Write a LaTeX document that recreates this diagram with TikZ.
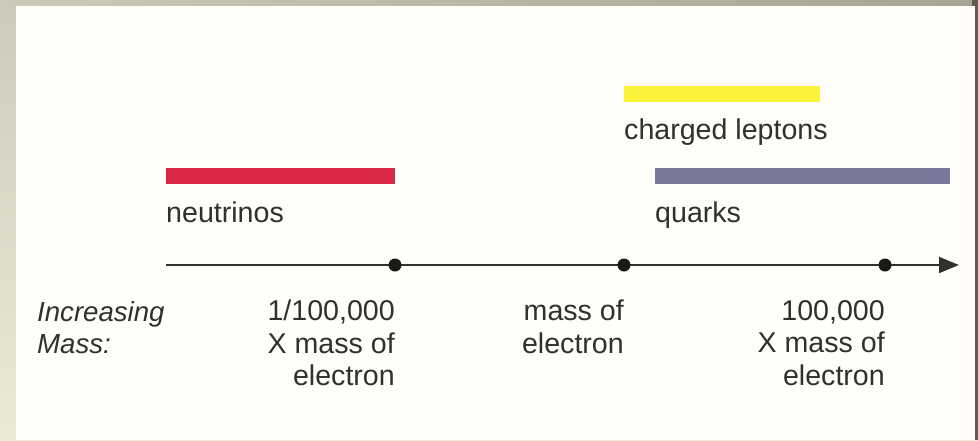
\documentclass[tikz,border=0pt]{standalone}
\usepackage{fontspec}
\setmainfont{Liberation Sans}
\usetikzlibrary{arrows.meta}

\definecolor{pagebg}{RGB}{255,254,248}
\definecolor{frameA}{RGB}{205,202,186}
\definecolor{frameB}{RGB}{236,234,214}
\definecolor{frameC}{RGB}{168,164,148}
\definecolor{frameedge}{RGB}{95,92,84}
\definecolor{neutrinored}{RGB}{218,40,70}
\definecolor{leptonyellow}{RGB}{252,242,58}
\definecolor{quarkblue}{RGB}{119,120,156}
\definecolor{ink}{RGB}{48,48,48}

\tikzset{
  bar/.style={draw=none, inner sep=0pt, anchor=north west, minimum height=16pt},
  label/.style={text=ink, inner sep=0pt, font=\fontsize{28.6}{32.5}\selectfont},
  tick/.style={circle, fill=black!90, inner sep=0pt, minimum size=13pt},
  axis/.style={line width=1.8pt, draw=ink, -{Triangle[length=20pt,width=16pt]}},
}

\begin{document}
\begin{tikzpicture}[x=1pt,y=-1pt]
  \useasboundingbox (0,0) rectangle (978,440);
  % frame and page
  \shade[top color=frameA, bottom color=frameB] (0,0) rectangle (978,440);
  \shade[left color=frameA, right color=frameC] (0,0) rectangle (978,6);
  \fill[frameedge] (972,0) rectangle (978,440);
  \fill[pagebg] (16,6) rectangle (975,440);

  % particle mass ranges
  \node[bar, fill=leptonyellow, minimum width=196pt] (leptonbar) at (624,86) {};
  \node[bar, fill=neutrinored, minimum width=229pt] (neutrinobar) at (166,168) {};
  \node[bar, fill=quarkblue, minimum width=295pt] (quarkbar) at (655,168) {};

  \node[label, anchor=base west] (leptons) at (624,139) {charged leptons};
  \node[label, anchor=base west] (neutrinos) at (166,222) {neutrinos};
  \node[label, anchor=base west] (quarks) at (655,222) {quarks};

  % mass axis
  \coordinate (axisstart) at (166,265);
  \coordinate (axisend) at (959,265);
  \draw[axis] (axisstart) -- (axisend);
  \node[tick] (small) at (395,265) {};
  \node[tick] (electron) at (624,265) {};
  \node[tick] (large) at (885,265) {};

  % axis labels
  \node[label, anchor=north west, align=left, font=\fontsize{27.6}{32}\selectfont\itshape] (axislabel) at (37,301) {Increasing\\Mass:};
  \node[label, anchor=north east, align=right] (smalllabel) at (small.center |- 0,300) {1/100,000\\X mass of\\electron};
  \node[label, anchor=north east, align=right] (electronlabel) at (electron.center |- 0,300) {mass of\\electron};
  \node[label, anchor=north east, align=right] (largelabel) at (large.center |- 0,300) {100,000\\X mass of\\electron};
\end{tikzpicture}
\end{document}
